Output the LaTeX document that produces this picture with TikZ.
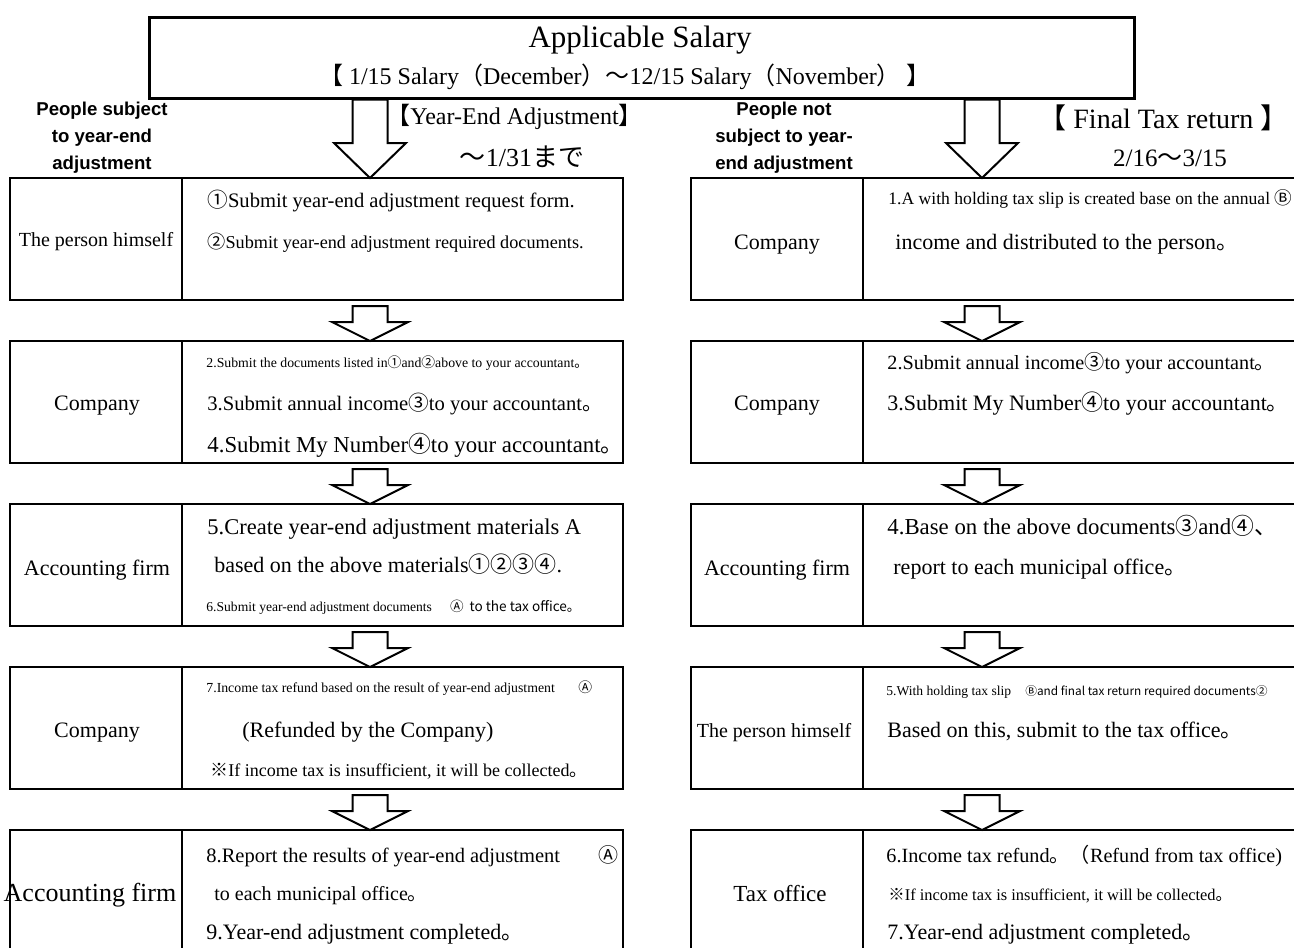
\documentclass[tikz,border=0pt]{standalone}
\usepackage{fontspec}
\setmainfont{Liberation Serif}
\setsansfont{Liberation Sans}
\newfontfamily\cjk{Noto Sans CJK JP}
\usetikzlibrary{positioning}
\usetikzlibrary{calc}

\newcommand{\cj}[1]{{\cjk #1}}
\newcommand{\setsz}[1]{\fontsize{#1}{#1}\selectfont}
% hollow block arrow: top point, tip point, shaft half, head half, head length
\newcommand{\flowstep}[5]{%
	\draw[hollow] let \p1=(#1), \p2=(#2) in
	(\x1-#3,\y1) -- (\x1+#3,\y1) -- (\x1+#3,\y2+#5) -- (\x1+#4,\y2+#5)
	-- (\x2,\y2) -- (\x1-#4,\y2+#5) -- (\x1-#3,\y2+#5) -- cycle;}

\begin{document}
\begin{tikzpicture}[x=0.5pt,y=-0.5pt,font=\setsz{11},
	box/.style={draw,line width=1.35pt,minimum width=306.5pt,minimum height=61pt,inner sep=0pt,outer sep=0pt},
	hollow/.style={draw,line width=1pt,fill=white,line join=miter},
	lbl/.style={anchor=base,inner sep=0pt},
	txt/.style={anchor=base west,inner sep=0pt}]
	
	\useasboundingbox (0,0) rectangle (1294,947);
	\clip (0,0) rectangle (1294,947);
	
	\node[draw,line width=1.3pt,minimum width=492.5pt,minimum height=40.5pt,inner sep=0pt,anchor=north west] (title) at (148,16) {};
	\node[lbl,font=\setsz{15.5}] (title_a) at (640,48) {Applicable Salary};
	\node[lbl,font=\setsz{12}] (title_b) at (625,85) {\cj{【} 1/15 Salary\cj{（}December\cj{）～}12/15 Salary\cj{（}November\cj{）} \cj{】}};
	
	\node[font=\sffamily\bfseries\fontsize{9.3}{13.5}\selectfont,align=center] (head_L) at (102,138) {People subject\\to year-end\\adjustment};
	\node[font=\sffamily\bfseries\fontsize{9.3}{13.5}\selectfont,align=center] (head_R) at (784,138) {People not\\subject to year-\\end adjustment};
	
	% left column: year-end adjustment
	\node[box,anchor=north west] (L_1) at (10,178) {};
	\node[box] (L_2) [below=20.5pt of L_1] {};
	\node[box] (L_3) [below=20.5pt of L_2] {};
	\node[box] (L_4) [below=20.5pt of L_3] {};
	\node[box] (L_5) [below=20.5pt of L_4] {};
	% right column: final tax return
	\node[box] (R_1) [right=34pt of L_1] {};
	\node[box] (R_2) [right=34pt of L_2] {};
	\node[box] (R_3) [right=34pt of L_3] {};
	\node[box] (R_4) [right=34pt of L_4] {};
	\node[box] (R_5) [right=34pt of L_5] {};
	
	\foreach \r in {L_1,L_2,L_3,L_4,L_5,R_1,R_2,R_3,R_4,R_5}
	\draw[line width=1.35pt] ($(\r.north west)+(172,0)$) -- ($(\r.south west)+(172,0)$);
	
	\coordinate (axL) at (370,0);
	\coordinate (axR) at (982,0);
	\flowstep{title.south -| axL}{L_1.north -| axL}{8.75pt}{18pt}{17.5pt}
	\flowstep{title.south -| axR}{R_1.north -| axR}{8.75pt}{18pt}{17.5pt}
	\foreach \a/\b in {L_1/L_2,L_2/L_3,L_3/L_4,L_4/L_5}
	{\flowstep{$(\a.south -| axL)+(0,6)$}{\b.north -| axL}{8.75pt}{19pt}{9.5pt}}
	\foreach \a/\b in {R_1/R_2,R_2/R_3,R_3/R_4,R_4/R_5}
	{\flowstep{$(\a.south -| axR)+(0,6)$}{\b.north -| axR}{8.75pt}{19pt}{9.5pt}}
	
	\node[txt,font=\setsz{12}] (tag_L) at (386,125) {\cj{【}Year-End Adjustment\cj{】}};
	\node[lbl,font=\setsz{13}] (date_L) at (522,166) {\cj{～}1/31\cj{まで}};
	\node[txt,font=\setsz{14}] (tag_R) at (1038,128) {\cj{【} Final Tax return \cj{】}};
	\node[lbl,font=\setsz{12.5}] (date_R) at (1170,166) {2/16\cj{～}3/15};
	
	% left column texts
	\node[lbl,font=\setsz{10}] (L_1a) at (96,246) {The person himself};
	\node[txt,font=\setsz{10.3}] (L_1b) at (207,207) {\cj{①}Submit year-end adjustment request form.};
	\node[txt,font=\setsz{9.1}] (L_1c) at (207,248) {\cj{②}Submit year-end adjustment required documents.};
	
	\node[lbl] (L_2a) at (97,410) {Company};
	\node[txt,font=\setsz{6.9}] (L_2b) at (206,367) {2.Submit the documents listed in\cj{①}and\cj{②}above to your accountant\cj{。}};
	\node[txt,font=\setsz{10.3}] (L_2c) at (207,410) {3.Submit annual income\cj{③}to your accountant\cj{。}};
	\node[txt,font=\setsz{11.4}] (L_2d) at (207,452) {4.Submit My Number\cj{④}to your accountant\cj{。}};
	
	\node[lbl] (L_3a) at (97,575) {Accounting firm};
	\node[txt,font=\setsz{11.25}] (L_3b) at (207,534) {5.Create year-end adjustment materials A};
	\node[txt] (L_3c) at (214,572) {based on the above materials\cj{①②③④}.};
	\node[txt,font=\setsz{6.8}] (L_3d) at (206,611) {6.Submit year-end adjustment documents\hspace{9pt}\cj{Ⓐ\hspace{3pt}to the tax office。}};
	
	\node[lbl] (L_4a) at (97,737) {Company};
	\node[txt,font=\setsz{6.9}] (L_4b) at (206,692) {7.Income tax refund based on the result of year-end adjustment};
	\node[txt,font=\setsz{6.9}] (L_4c) at (578,692) {\cj{Ⓐ}};
	\node[txt] (L_4d) at (242,737) {(Refunded by the Company)};
	\node[txt,font=\setsz{9}] (L_4e) at (210,776) {\cj{※}If income tax is insufficient, it will be collected\cj{。}};
	
	\node[lbl,font=\setsz{13}] (L_5a) at (90,901) {Accounting firm};
	\node[txt,font=\setsz{10.25}] (L_5b) at (206,862) {8.Report the results of year-end adjustment};
	\node[txt,font=\setsz{10}] (L_5c) at (598,862) {\cj{Ⓐ}};
	\node[txt,font=\setsz{10}] (L_5d) at (214,900) {to each municipal office\cj{。}};
	\node[txt] (L_5e) at (206,939) {9.Year-end adjustment completed\cj{。}};
	
	% right column texts
	\node[lbl] (R_1a) at (777,249) {Company};
	\node[txt,font=\setsz{8.8}] (R_1b) at (888,204) {1.A with holding tax slip is created base on the annual \cj{Ⓑ}};
	\node[txt] (R_1c) at (895,249) {income and distributed to the person\cj{。}};
	
	\node[lbl] (R_2a) at (777,410) {Company};
	\node[txt,font=\setsz{10.1}] (R_2b) at (887,369) {2.Submit annual income\cj{③}to your accountant\cj{。}};
	\node[txt,font=\setsz{11}] (R_2c) at (887,410) {3.Submit My Number\cj{④}to your accountant\cj{。}};
	
	\node[lbl] (R_3a) at (777,575) {Accounting firm};
	\node[txt,font=\setsz{11.4}] (R_3b) at (887,534) {4.Base on the above documents\cj{③}and\cj{④、}};
	\node[txt] (R_3c) at (893,574) {report to each municipal office\cj{。}};
	
	\node[lbl,font=\setsz{10}] (R_4a) at (774,737) {The person himself};
	\node[txt,font=\setsz{6.8}] (R_4b) at (886,695) {5.With holding tax slip\hspace{7pt}{\setsz{5.9}\cj{Ⓑand final tax return required documents②}}};
	\node[txt] (R_4c) at (887,737) {Based on this, submit to the tax office\cj{。}};
	
	\node[lbl,font=\setsz{11.5}] (R_5a) at (780,901) {Tax office};
	\node[txt,font=\setsz{10.1}] (R_5b) at (886,862) {6.Income tax refund\cj{。（}Refund from tax office)};
	\node[txt,font=\setsz{8.2}] (R_5c) at (888,900) {\cj{※}If income tax is insufficient, it will be collected\cj{。}};
	\node[txt] (R_5d) at (887,939) {7.Year-end adjustment completed\cj{。}};
\end{tikzpicture}
\end{document}
